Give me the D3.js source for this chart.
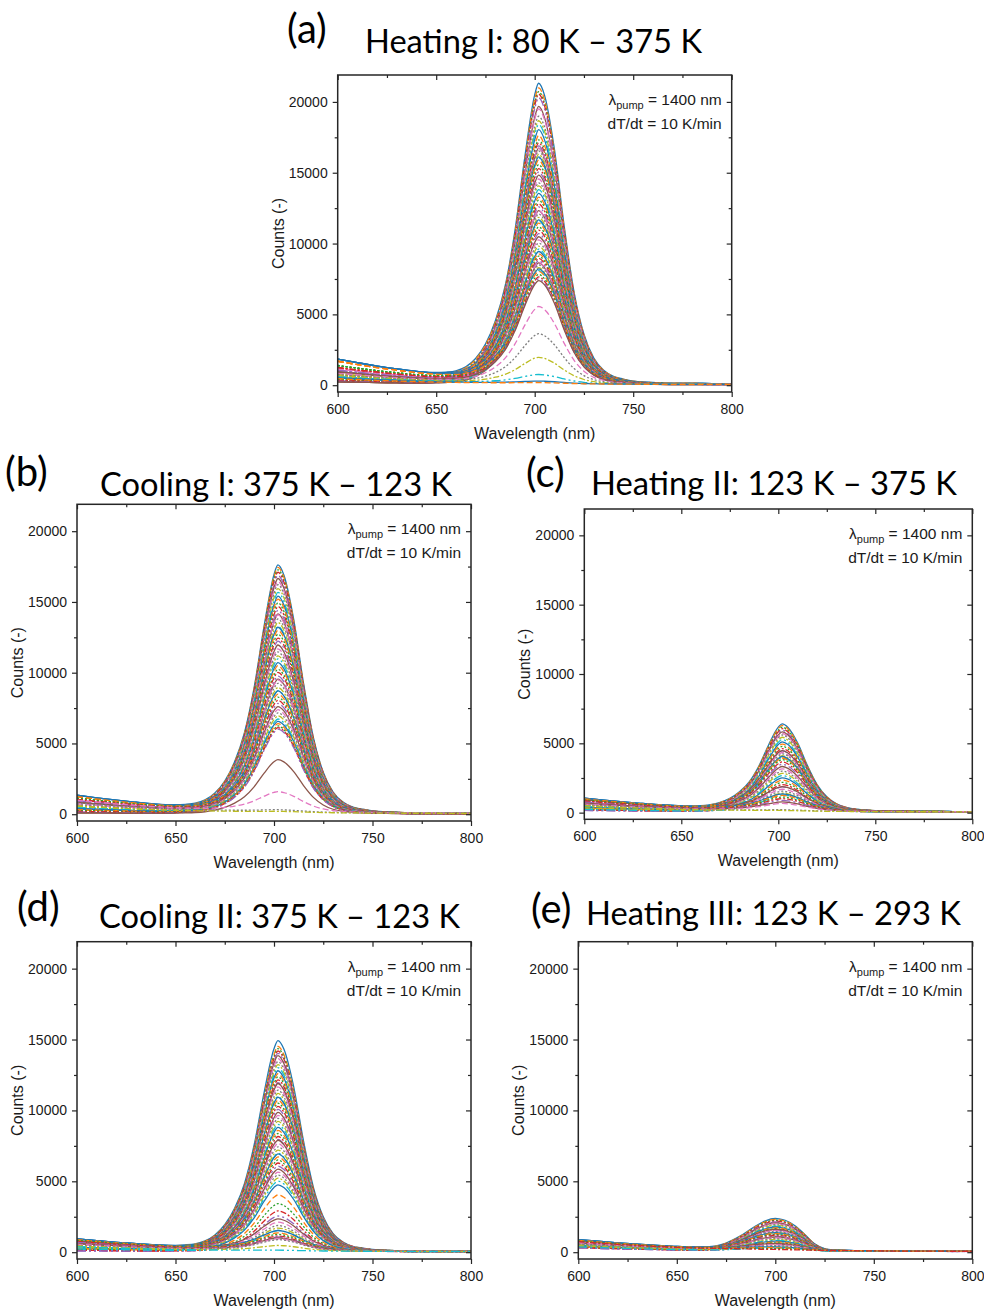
<!DOCTYPE html>
<html>
<head>
<meta charset="utf-8">
<script src="https://cdn.jsdelivr.net/npm/d3@7"></script>
<style>
  body { margin: 0; background: #fff; }
  svg { display: block; }
</style>
</head>
<body>
<svg id="fig" width="984" height="1310"></svg>
<script>
/* PL spectra during heating / cooling cycles — five panels */

// ─── Data ────────────────────────────────────────────────
// wavelength grid (nm) the spectral shapes were read on
const wavelengths = [600, 610, 620, 630, 640, 650, 655, 660, 665, 670, 675, 680, 685, 690, 695, 700, 702,
  705, 710, 715, 720, 725, 730, 735, 740, 745, 750, 760, 770, 780, 790, 800];

// normalised emission band (panels a–d) (a)
const peakShape = [0, 0, 0, 0, 0, 0.004, 0.008, 0.015, 0.03, 0.06, 0.11, 0.19, 0.31, 0.5, 0.75, 0.96, 1.0,
  0.96, 0.78, 0.52, 0.3, 0.16, 0.08, 0.04, 0.02, 0.012, 0.006, 0.002, 0, 0, 0, 0];

// band in (e) sits at 700 nm and is narrower on the red side
const peakShapeE = [0, 0, 0, 0, 0, 0, 0, 0.005, 0.02, 0.06, 0.16, 0.32, 0.52, 0.74, 0.92, 1.0, 0.99,
  0.95, 0.78, 0.5, 0.2, 0.05, 0.01, 0, 0, 0, 0, 0, 0, 0, 0, 0];

// sloping background from the blue side, normalised at 600 nm
const bgShape = [1.0, 0.86, 0.73, 0.62, 0.52, 0.43, 0.4, 0.37, 0.35, 0.33, 0.31, 0.29, 0.27, 0.25, 0.23, 0.22, 0.21,
  0.2, 0.18, 0.16, 0.14, 0.12, 0.11, 0.1, 0.09, 0.08, 0.07, 0.06, 0.05, 0.05, 0.04, 0.04];

const darkCounts = 40;

// peak heights (counts) of the spectra in each panel
const peaksA = [20900, 20600, 20400, 20250, 20050, 19450, 19300, 18800, 18500, 18250, 17900, 17500, 17200, 17000,
  16800, 16650, 16450, 16300, 16100, 15900, 15700, 15500, 15250, 15000, 14800, 14600, 14350, 14100, 13900, 13650,
  13400, 13150, 12950, 12700, 12500, 12250, 12050, 11850, 11650, 11450, 11250, 11050, 10850, 10650, 10450, 10250,
  10050, 9850, 9650, 9450, 9300, 9150, 9000, 8850, 8700, 8550, 8400, 8250, 8100, 7950, 7800, 7650, 7500, 7350,
  7250, 7150, 5350, 3450, 1800, 600, 150, 60];
const peaksB = [17300, 17150, 17000, 16850, 16650, 16450, 16250, 16050, 15800, 15550, 15300, 15100, 14850, 14600,
  14350, 14100, 13850, 13600, 13400, 13150, 12900, 12700, 12450, 12200, 12000, 11750, 11500, 11300, 11050, 10850,
  10600, 10400, 10150, 9950, 9700, 9500, 9250, 9050, 8800, 8600, 8400, 8200, 8000, 7800, 7600, 7400, 7200, 7000,
  6800, 6600, 6450, 6300, 6150, 6050, 5950, 3800, 1350, 120, 50];
const peaksC = [6150, 6050, 5950, 5850, 5750, 5650, 5550, 5450, 5300, 5150, 5000, 4850, 4700, 4550, 4400, 4250,
  4150, 4100, 4000, 3900, 3800, 3700, 3600, 3450, 3300, 3150, 3000, 2850, 2700, 2550, 2400, 2250, 2100, 1950,
  1800, 1650, 1500, 1400, 1300, 1200, 1100, 1000, 900, 800, 700, 600, 500, 60, 20];
const peaksD = [14700, 14300, 14150, 14000, 13850, 13700, 13500, 13300, 13100, 12900, 12700, 12500, 12300, 12100,
  11900, 11700, 11500, 11300, 11100, 10900, 10700, 10500, 10300, 10100, 9900, 9700, 9500, 9300, 9100, 8900, 8700,
  8500, 8300, 8100, 7900, 7700, 7500, 7300, 7100, 6900, 6700, 6500, 6300, 6100, 5900, 5700, 5500, 5300, 5100,
  4900, 4650, 3950, 3350, 2850, 2500, 2150, 1950, 1750, 1600, 1450, 1300, 1150, 1050, 950, 900, 850, 800, 750,
  350, 30];
const peaksE = [2150, 2100, 2050, 2000, 1950, 1900, 1850, 1800, 1750, 1700, 1650, 1600, 1550, 1500, 1450, 1400,
  1350, 1300, 1250, 1200, 1150, 1100, 1050, 1000, 950, 900, 850, 800, 750, 700, 650, 600, 550, 500, 450, 400,
  350, 300, 250, 200, 150, 100, 50, 0];

// background level at 600 nm (counts), taken in turn by the spectra
const bgA = [1800, 1650, 1350, 1200, 1000, 900, 800, 700, 620, 550, 480, 420, 360, 300, 250, 200, 1100, 950, 750, 500];
const bgB = [1300, 1200, 1100, 1000, 900, 800, 700, 600, 500, 420, 350, 280, 220, 160, 100, 60, 950, 750, 550, 400];
const bgC = [1000, 950, 880, 800, 720, 650, 580, 520, 460, 400, 340, 280, 220, 160, 120, 900, 700, 500, 300, 200];
const bgD = [900, 850, 800, 720, 650, 580, 520, 460, 400, 340, 280, 220, 160, 100, 60, 750, 600, 450, 300, 200];
const bgE = [850, 800, 750, 700, 650, 600, 560, 520, 480, 440, 400, 360, 320, 290, 260, 780, 620, 540, 420, 340];

const xTicks = [600, 650, 700, 750, 800];
const xMinor = [625, 675, 725, 775];
const yTicks = [0, 5000, 10000, 15000, 20000];
const yMinor = [2500, 7500, 12500, 17500];
const yDomain = [-480, 21900];

const panels = [
  { key: 'a', tag: '(a)', title: 'Heating I: 80 K – 375 K', peaks: peaksA, bg: bgA, shape: peakShape },
  { key: 'b', tag: '(b)', title: 'Cooling I: 375 K – 123 K', peaks: peaksB, bg: bgB, shape: peakShape },
  { key: 'c', tag: '(c)', title: 'Heating II: 123 K – 375 K', peaks: peaksC, bg: bgC, shape: peakShape },
  { key: 'd', tag: '(d)', title: 'Cooling II: 375 K – 123 K', peaks: peaksD, bg: bgD, shape: peakShape },
  { key: 'e', tag: '(e)', title: 'Heating III: 123 K – 293 K', peaks: peaksE, bg: bgE, shape: peakShapeE },
];

// ─── Layout ──────────────────────────────────────────────
const boxes = {
  a: { left: 337.7, right: 731.7, top: 75, bottom: 392, tagX: 287, tagY: 43, titleX: 365, titleY: 53, titleW: 337 },
  b: { left: 77, right: 471, top: 504.3, bottom: 821, tagX: 5, tagY: 486, titleX: 100, titleY: 496, titleW: 352 },
  c: { left: 584.3, right: 972.3, top: 509, bottom: 819.3, tagX: 526, tagY: 487, titleX: 591, titleY: 495, titleW: 366 },
  d: { left: 77, right: 471, top: 941.7, bottom: 1259, tagX: 17, tagY: 921, titleX: 99, titleY: 928, titleW: 361 },
  e: { left: 578.3, right: 972.3, top: 941.7, bottom: 1259, tagX: 531, tagY: 923, titleX: 586, titleY: 925, titleW: 375 },
};

const colors = d3.schemeCategory10;
const dashes = ['none', '6,3', '2,2', '6,2,2,2', '9,3,2,3,2,3'];
const svg = d3.select('#fig');
const axisFont = '"Liberation Sans", Arial, sans-serif';
const titleFont = 'Lato, "Open Sans", sans-serif';
const ink = '#262626';

// ─── Panel ───────────────────────────────────────────────
function drawPanel(p) {
  const box = boxes[p.key];
  const x = d3.scaleLinear().domain([600, 800]).range([box.left, box.right]);
  const y = d3.scaleLinear().domain(yDomain).range([box.bottom, box.top]);

  svg.append('clipPath').attr('id', `clip-${p.key}`)
    .append('rect')
    .attr('x', box.left).attr('y', box.top)
    .attr('width', box.right - box.left).attr('height', box.bottom - box.top);

  const line = d3.line()
    .x((d, i) => x(wavelengths[i]))
    .y(d => y(d))
    .curve(d3.curveMonotoneX);

  const curves = svg.append('g').attr('clip-path', `url(#clip-${p.key})`);
  p.peaks.forEach((amp, i) => {
    const b = p.bg[i % p.bg.length];
    const vals = wavelengths.map((w, j) => amp * p.shape[j] + b * bgShape[j] + darkCounts);
    curves.append('path')
      .attr('d', line(vals))
      .attr('fill', 'none')
      .attr('stroke', colors[i % colors.length])
      .attr('stroke-width', 1.3)
      .attr('stroke-dasharray', dashes[i % dashes.length]);
  });

  // axes: outward ticks bottom/left, inward mirror ticks top/right
  const axes = svg.append('g');
  const add = (gen, tx, ty) => axes.append('g')
    .attr('transform', `translate(${tx},${ty})`)
    .call(gen)
    .call(g => g.select('.domain').remove());
  const fmt = d3.format('d');

  add(d3.axisBottom(x).tickValues(xTicks).tickSize(5).tickPadding(7).tickFormat(fmt), 0, box.bottom);
  add(d3.axisBottom(x).tickValues(xMinor).tickSize(3).tickFormat(''), 0, box.bottom);
  add(d3.axisLeft(y).tickValues(yTicks).tickSize(5).tickPadding(5).tickFormat(fmt), box.left, 0);
  add(d3.axisLeft(y).tickValues(yMinor).tickSize(3).tickFormat(''), box.left, 0);
  add(d3.axisTop(x).tickValues(xTicks).tickSize(-5).tickFormat(''), 0, box.top);
  add(d3.axisTop(x).tickValues(xMinor).tickSize(-3).tickFormat(''), 0, box.top);
  add(d3.axisRight(y).tickValues(yTicks).tickSize(-5).tickFormat(''), box.right, 0);
  add(d3.axisRight(y).tickValues(yMinor).tickSize(-3).tickFormat(''), box.right, 0);

  axes.selectAll('line').attr('stroke', ink).attr('stroke-width', 1.2);
  axes.selectAll('text')
    .attr('fill', '#1a1a1a')
    .style('font-family', axisFont)
    .style('font-size', '14px');

  svg.append('rect')
    .attr('x', box.left).attr('y', box.top)
    .attr('width', box.right - box.left).attr('height', box.bottom - box.top)
    .attr('fill', 'none').attr('stroke', ink).attr('stroke-width', 1.5);

  // axis titles
  svg.append('text')
    .attr('x', (box.left + box.right) / 2).attr('y', box.bottom + 47)
    .attr('text-anchor', 'middle')
    .style('font-family', axisFont).style('font-size', '16px').attr('fill', '#1a1a1a')
    .text('Wavelength (nm)');

  svg.append('text')
    .attr('transform', `translate(${box.left - 54},${(box.top + box.bottom) / 2}) rotate(-90)`)
    .attr('text-anchor', 'middle')
    .style('font-family', axisFont).style('font-size', '16px').attr('fill', '#1a1a1a')
    .text('Counts (-)');

  // measurement note
  const note = svg.append('text')
    .attr('x', box.right - 10).attr('y', box.top + 30)
    .attr('text-anchor', 'end')
    .style('font-family', axisFont).style('font-size', '15.5px').attr('fill', '#1a1a1a');
  note.append('tspan').text('λ');
  note.append('tspan').attr('dy', 4).style('font-size', '11px').text('pump');
  note.append('tspan').attr('dy', -4).text(' = 1400 nm');

  svg.append('text')
    .attr('x', box.right - 10).attr('y', box.top + 54)
    .attr('text-anchor', 'end')
    .style('font-family', axisFont).style('font-size', '15.5px').attr('fill', '#1a1a1a')
    .text('dT/dt = 10 K/min');

  // panel tag + title
  svg.append('text')
    .attr('x', box.tagX).attr('y', box.tagY)
    .style('font-family', titleFont).style('font-size', '40px').attr('fill', '#000')
    .text(p.tag);

  svg.append('text')
    .attr('x', box.titleX).attr('y', box.titleY)
    .attr('textLength', box.titleW).attr('lengthAdjust', 'spacingAndGlyphs')
    .style('font-family', titleFont).style('font-size', '33.5px').attr('fill', '#000')
    .text(p.title);
}

panels.forEach(drawPanel);
</script>
</body>
</html>
